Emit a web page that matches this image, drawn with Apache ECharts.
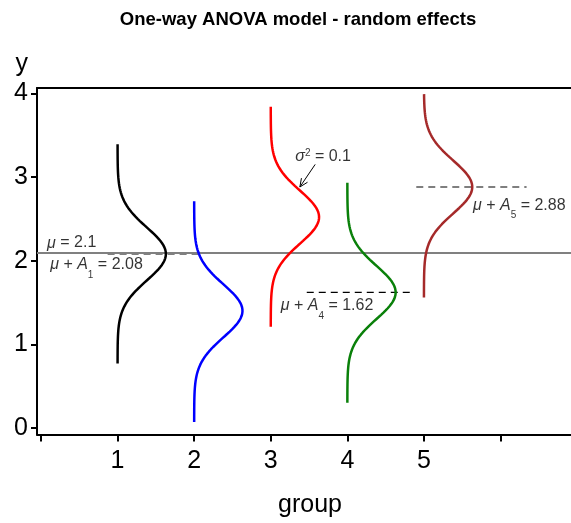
<!DOCTYPE html>
<html>
<head>
<meta charset="utf-8">
<script src="https://cdn.jsdelivr.net/npm/echarts@6/dist/echarts.min.js"></script>
<style>
html,body{margin:0;padding:0;background:#fff;}
#chart{width:571px;height:523px;}
</style>
</head>
<body>
<div id="chart"></div>
<script>
// ---- data ----
const groups = [1, 2, 3, 4, 5];
const groupMeans = [2.08, 1.40, 2.52, 1.62, 2.88];     // mu + A_i
const curveLow = [0.77, 0.07, 1.21, 0.30, 1.56];       // extent of each drawn density
const curveHigh = [3.39, 2.71, 3.84, 2.93, 3.99];
const sigma2 = 0.1;                                     // within-group variance
const densityScale = 0.5;                               // horizontal scale of density
const grandMean = 2.1;                                  // mu
const dashLevels = [2.08, 1.62, 2.88];
const dashStart = [0.87, 3.47, 4.90];
const dashEnd = [2.08, 4.85, 6.34];
const xTicks = [0, 1, 2, 3, 4, 5, 6];
const xTickLabels = [1, 2, 3, 4, 5];
const yTicks = [0, 1, 2, 3, 4];
const arrowFrom = [3.58, 3.15];
const arrowTo = [3.38, 2.88];

const colors = ['#000000', '#0000ff', '#ff0000', '#0a800a', '#a52a2a'];
const FONT = '"Liberation Sans", Arial, sans-serif';

function dnorm(y, m, v) {
  return Math.exp(-(y - m) * (y - m) / (2 * v)) / Math.sqrt(2 * Math.PI * v);
}

const curveSeries = groups.map((g, i) => {
  const pts = [];
  const n = 200;
  for (let k = 0; k <= n; k++) {
    const y = curveLow[i] + (curveHigh[i] - curveLow[i]) * k / n;
    pts.push([g + densityScale * dnorm(y, groupMeans[i], sigma2), y]);
  }
  return {
    type: 'line', data: pts, showSymbol: false, symbol: 'none', smooth: false,
    lineStyle: { color: colors[i], width: 2.5 }, z: 5, silent: true
  };
});

const dashSeries = dashLevels.map((lv, i) => ({
  type: 'line', data: [[dashStart[i], lv], [dashEnd[i], lv]], symbol: 'none',
  lineStyle: { color: '#000', width: 1.2, type: [7, 5] }, z: 4, silent: true
}));

const rich = {
  i: { fontStyle: 'italic', fontSize: 16, fontFamily: FONT, color: '#000', lineHeight: 30 },
  n: { fontSize: 16, fontFamily: FONT, color: '#000', lineHeight: 30 },
  sub: { fontSize: 10, fontFamily: FONT, color: '#000', lineHeight: 10, verticalAlign: 'bottom' },
  i2: { fontStyle: 'italic', fontSize: 16, fontFamily: FONT, color: '#000', lineHeight: 17 },
  n2: { fontSize: 16, fontFamily: FONT, color: '#000', lineHeight: 17 },
  sup: { fontSize: 10, fontFamily: FONT, color: '#000', lineHeight: 10, verticalAlign: 'top' }
};

const labelItems = [
  { value: [0.08, 2.21], text: '{i|μ}{n| = ' + grandMean + '}' },
  { value: [0.12, 1.95], text: '{i|μ}{n| + }{i|A}{sub|1}{n| = ' + groupMeans[0].toFixed(2) + '}' },
  { value: [3.13, 1.46], text: '{i|μ}{n| + }{i|A}{sub|4}{n| = ' + groupMeans[3].toFixed(2) + '}' },
  { value: [5.64, 2.66], text: '{i|μ}{n| + }{i|A}{sub|5}{n| = ' + groupMeans[4].toFixed(2) + '}' },
  { value: [3.32, 3.24], text: '{i2|σ}{sup|2}{n2| = ' + sigma2 + '}' }
];

const option = {
  animation: false,
  backgroundColor: '#fff',
  title: {
    text: 'One-way ANOVA model - random effects',
    left: 293, top: 5, textAlign: 'center',
    textStyle: { fontFamily: FONT, fontWeight: 'bold', fontSize: 18.5, color: '#000' }
  },
  grid: { left: 37, right: 0, top: 88, bottom: 88.5, containLabel: false },
  xAxis: [{
    type: 'value', min: -0.052, max: 6.92, position: 'bottom',
    name: 'group', nameLocation: 'middle', nameGap: 58,
    nameTextStyle: { fontFamily: FONT, fontSize: 25, color: '#000', padding: [0, 0, 0, 12] },
    axisLine: { show: true, onZero: false, lineStyle: { color: '#000', width: 2 } },
    axisTick: { show: true, length: 7, lineStyle: { color: '#000', width: 2 }, customValues: xTicks },
    axisLabel: { show: true, margin: 14, fontFamily: FONT, fontSize: 25, color: '#000', customValues: xTickLabels },
    splitLine: { show: false }
  }, {
    type: 'value', min: -0.052, max: 6.92, position: 'top',
    axisLine: { show: true, onZero: false, lineStyle: { color: '#000', width: 2 } },
    axisTick: { show: false }, axisLabel: { show: false }, splitLine: { show: false }
  }],
  yAxis: {
    type: 'value', min: -0.078, max: 4.063,
    name: 'y', nameLocation: 'end', nameGap: 11,
    nameTextStyle: { fontFamily: FONT, fontSize: 25, color: '#000', align: 'right', padding: [0, 9, 0, 0] },
    axisLine: { show: true, onZero: false, lineStyle: { color: '#000', width: 2 } },
    axisTick: { show: true, length: 6, lineStyle: { color: '#000', width: 2 }, customValues: yTicks },
    axisLabel: { show: true, margin: 9, fontFamily: FONT, fontSize: 25, color: '#000', customValues: yTicks },
    splitLine: { show: false }
  },
  series: [
    {
      type: 'line', data: [], symbol: 'none', z: 2, silent: true,
      markLine: {
        silent: true, symbol: ['none', 'none'], animation: false,
        label: { show: false },
        lineStyle: { color: '#808080', width: 2, type: 'solid' },
        data: [{ yAxis: grandMean }]
      }
    },
    ...dashSeries,
    ...curveSeries,
    {
      type: 'custom', z: 6, silent: true,
      data: [[arrowFrom[0], arrowFrom[1], arrowTo[0], arrowTo[1]]],
      renderItem: function (params, api) {
        const p0 = api.coord([api.value(0), api.value(1)]);
        const p1 = api.coord([api.value(2), api.value(3)]);
        const ang = Math.atan2(p1[1] - p0[1], p1[0] - p0[0]);
        const L = 9, a = 0.42;
        const h1 = [p1[0] - L * Math.cos(ang - a), p1[1] - L * Math.sin(ang - a)];
        const h2 = [p1[0] - L * Math.cos(ang + a), p1[1] - L * Math.sin(ang + a)];
        return {
          type: 'group', children: [
            { type: 'polyline', shape: { points: [p0, p1] }, style: { stroke: '#000', lineWidth: 1, fill: null } },
            { type: 'polyline', shape: { points: [h1, p1, h2] }, style: { stroke: '#000', lineWidth: 1, fill: null } }
          ]
        };
      }
    },
    {
      type: 'scatter', symbolSize: 0, z: 7, silent: true,
      data: labelItems.map(d => ({ value: d.value, label: { formatter: d.text } })),
      label: { show: true, position: 'right', distance: 0, color: '#000', rich: rich }
    }
  ]
};

const chart = echarts.init(document.getElementById('chart'), null, { renderer: 'canvas' });
chart.setOption(option);
</script>
</body>
</html>
